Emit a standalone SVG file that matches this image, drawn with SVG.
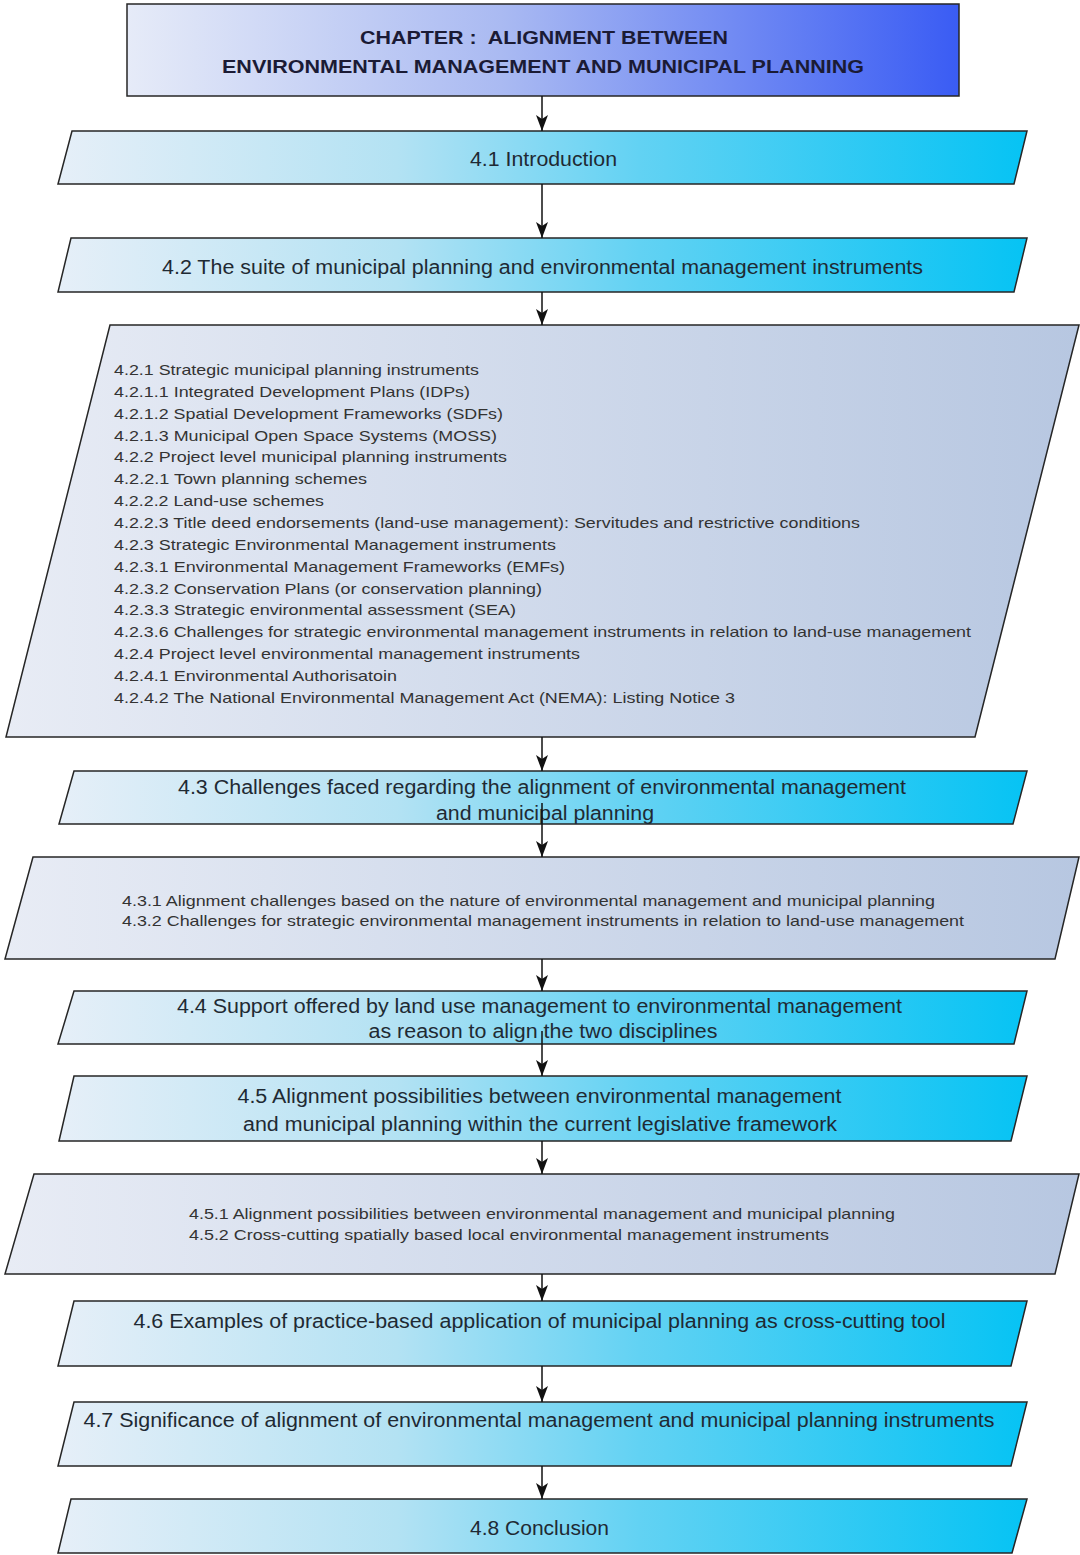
<svg xmlns="http://www.w3.org/2000/svg" width="1080" height="1555" viewBox="0 0 1080 1555">
<defs>
<linearGradient id="gHeader" x1="0" y1="0" x2="1" y2="0">
<stop offset="0" stop-color="#e6ebf8"/>
<stop offset="0.45" stop-color="#aabaf2"/>
<stop offset="1" stop-color="#3a5cf4"/>
</linearGradient>
<linearGradient id="gCyan" x1="0" y1="0" x2="1" y2="0">
<stop offset="0" stop-color="#e6eff8"/>
<stop offset="0.35" stop-color="#b3e2f3"/>
<stop offset="0.6" stop-color="#62d2f3"/>
<stop offset="1" stop-color="#06c3f4"/>
</linearGradient>
<linearGradient id="gGray" x1="0" y1="0" x2="1" y2="0">
<stop offset="0" stop-color="#e8ecf5"/>
<stop offset="1" stop-color="#b7c7e1"/>
</linearGradient>
<marker id="arr" markerUnits="userSpaceOnUse" viewBox="0 0 16 12" refX="16" refY="6" markerWidth="16" markerHeight="12" orient="auto">
<path d="M0,0 L16,6 L0,12 L4,6 Z" fill="#111"/>
</marker>
</defs>
<style>
.box{stroke:#262626;stroke-width:1.5}
.cy{fill:url(#gCyan)}
.gr{fill:url(#gGray)}
.hd{fill:url(#gHeader)}
.t{font-family:"Liberation Sans",Arial,sans-serif;fill:#1f2a33}
.big{font-size:20px;text-anchor:middle}
.sm{font-size:15px;fill:#333}
.hdt{font-size:19px;font-weight:bold;text-anchor:middle;fill:#1b1b35}
.con{stroke:#111;stroke-width:1.5;fill:none}
</style>
<rect width="1080" height="1555" fill="#ffffff"/>

<g id="header">
<rect class="box hd" x="127" y="4" width="832" height="92"/>
<text class="t hdt" x="544" y="44" textLength="368" lengthAdjust="spacingAndGlyphs" xml:space="preserve">CHAPTER :  ALIGNMENT BETWEEN</text>
<text class="t hdt" x="543" y="73" textLength="642" lengthAdjust="spacingAndGlyphs">ENVIRONMENTAL MANAGEMENT AND MUNICIPAL PLANNING</text>
</g>

<g id="n41">
<polygon class="box cy" points="72,131 1027,131 1014,184 58,184"/>
<text class="t big" x="543.5" y="166" textLength="147" lengthAdjust="spacingAndGlyphs">4.1 Introduction</text>
</g>

<g id="n42">
<polygon class="box cy" points="71,238 1027,238 1014,292 58,292"/>
<text class="t big" x="542.5" y="274" textLength="761" lengthAdjust="spacingAndGlyphs">4.2 The suite of municipal planning and environmental management instruments</text>
</g>

<g id="n42sub">
<polygon class="box gr" points="110,325 1079,325 975,737 6,737"/>
<g class="t sm">
<text x="114" y="375" textLength="365" lengthAdjust="spacingAndGlyphs">4.2.1 Strategic municipal planning instruments</text>
<text x="114" y="396.9" textLength="356" lengthAdjust="spacingAndGlyphs">4.2.1.1 Integrated Development Plans (IDPs)</text>
<text x="114" y="418.7" textLength="389" lengthAdjust="spacingAndGlyphs">4.2.1.2 Spatial Development Frameworks (SDFs)</text>
<text x="114" y="440.6" textLength="383" lengthAdjust="spacingAndGlyphs">4.2.1.3 Municipal Open Space Systems (MOSS)</text>
<text x="114" y="462.4" textLength="393" lengthAdjust="spacingAndGlyphs">4.2.2 Project level municipal planning instruments</text>
<text x="114" y="484.3" textLength="253" lengthAdjust="spacingAndGlyphs">4.2.2.1 Town planning schemes</text>
<text x="114" y="506.1" textLength="210" lengthAdjust="spacingAndGlyphs">4.2.2.2 Land-use schemes</text>
<text x="114" y="528" textLength="746" lengthAdjust="spacingAndGlyphs">4.2.2.3 Title deed endorsements (land-use management): Servitudes and restrictive conditions</text>
<text x="114" y="549.8" textLength="442" lengthAdjust="spacingAndGlyphs">4.2.3 Strategic Environmental Management instruments</text>
<text x="114" y="571.7" textLength="451" lengthAdjust="spacingAndGlyphs">4.2.3.1 Environmental Management Frameworks (EMFs)</text>
<text x="114" y="593.5" textLength="428" lengthAdjust="spacingAndGlyphs">4.2.3.2 Conservation Plans (or conservation planning)</text>
<text x="114" y="615.4" textLength="402" lengthAdjust="spacingAndGlyphs">4.2.3.3 Strategic environmental assessment (SEA)</text>
<text x="114" y="637.2" textLength="857" lengthAdjust="spacingAndGlyphs">4.2.3.6 Challenges for strategic environmental management instruments in relation to land-use management</text>
<text x="114" y="659.1" textLength="466" lengthAdjust="spacingAndGlyphs">4.2.4 Project level environmental management instruments</text>
<text x="114" y="680.9" textLength="283" lengthAdjust="spacingAndGlyphs">4.2.4.1 Environmental Authorisatoin</text>
<text x="114" y="702.8" textLength="621" lengthAdjust="spacingAndGlyphs">4.2.4.2 The National Environmental Management Act (NEMA): Listing Notice 3</text>
</g>
</g>

<g id="n43">
<polygon class="box cy" points="74,771 1027,771 1013,824 59,824"/>
<text class="t big" x="542" y="794" textLength="728" lengthAdjust="spacingAndGlyphs">4.3 Challenges faced regarding the alignment of environmental management</text>
<text class="t big" x="545" y="820" textLength="218" lengthAdjust="spacingAndGlyphs">and municipal planning</text>
</g>

<g id="n43sub">
<polygon class="box gr" points="33,857 1079,857 1055,959 5,959"/>
<text class="t sm" x="122" y="906" textLength="813" lengthAdjust="spacingAndGlyphs">4.3.1 Alignment challenges based on the nature of environmental management and municipal planning</text>
<text class="t sm" x="122" y="926" textLength="842" lengthAdjust="spacingAndGlyphs">4.3.2 Challenges for strategic environmental management instruments in relation to land-use management</text>
</g>

<g id="n44">
<polygon class="box cy" points="74,991 1027,991 1014,1044 58,1044"/>
<text class="t big" x="539.5" y="1013" textLength="725" lengthAdjust="spacingAndGlyphs">4.4 Support offered by land use management to environmental management</text>
<text class="t big" x="543" y="1038" textLength="349" lengthAdjust="spacingAndGlyphs">as reason to align the two disciplines</text>
</g>

<g id="n45">
<polygon class="box cy" points="74,1076 1027,1076 1011,1141 59,1141"/>
<text class="t big" x="539.5" y="1103" textLength="604" lengthAdjust="spacingAndGlyphs">4.5 Alignment possibilities between environmental management</text>
<text class="t big" x="540" y="1131" textLength="594" lengthAdjust="spacingAndGlyphs">and municipal planning within the current legislative framework</text>
</g>

<g id="n45sub">
<polygon class="box gr" points="34,1174 1079,1174 1055,1274 5,1274"/>
<text class="t sm" x="189" y="1219" textLength="706" lengthAdjust="spacingAndGlyphs">4.5.1 Alignment possibilities between environmental management and municipal planning</text>
<text class="t sm" x="189" y="1240" textLength="640" lengthAdjust="spacingAndGlyphs">4.5.2 Cross-cutting spatially based local environmental management instruments</text>
</g>

<g id="n46">
<polygon class="box cy" points="74,1301 1027,1301 1011,1366 58,1366"/>
<text class="t big" x="539.5" y="1328" textLength="812" lengthAdjust="spacingAndGlyphs">4.6 Examples of practice-based application of municipal planning as cross-cutting tool</text>
</g>

<g id="n47">
<polygon class="box cy" points="74,1402 1027,1402 1011,1466 58,1466"/>
<text class="t big" x="539" y="1427" textLength="911" lengthAdjust="spacingAndGlyphs">4.7 Significance of alignment of environmental management and municipal planning instruments</text>
</g>

<g id="n48">
<polygon class="box cy" points="71,1499 1027,1499 1012,1553 58,1553"/>
<text class="t big" x="539.5" y="1535" textLength="139" lengthAdjust="spacingAndGlyphs">4.8 Conclusion</text>
</g>

<g id="connectors">
<line class="con" x1="542" y1="96" x2="542" y2="131" marker-end="url(#arr)"/>
<line class="con" x1="542" y1="184" x2="542" y2="238" marker-end="url(#arr)"/>
<line class="con" x1="542" y1="292" x2="542" y2="325" marker-end="url(#arr)"/>
<line class="con" x1="542" y1="737" x2="542" y2="771" marker-end="url(#arr)"/>
<line class="con" x1="542" y1="803" x2="542" y2="857" marker-end="url(#arr)"/>
<line class="con" x1="542" y1="959" x2="542" y2="991" marker-end="url(#arr)"/>
<line class="con" x1="542" y1="1031" x2="542" y2="1076" marker-end="url(#arr)"/>
<line class="con" x1="542" y1="1141" x2="542" y2="1174" marker-end="url(#arr)"/>
<line class="con" x1="542" y1="1274" x2="542" y2="1301" marker-end="url(#arr)"/>
<line class="con" x1="542" y1="1366" x2="542" y2="1402" marker-end="url(#arr)"/>
<line class="con" x1="542" y1="1466" x2="542" y2="1499" marker-end="url(#arr)"/>
</g>
</svg>
